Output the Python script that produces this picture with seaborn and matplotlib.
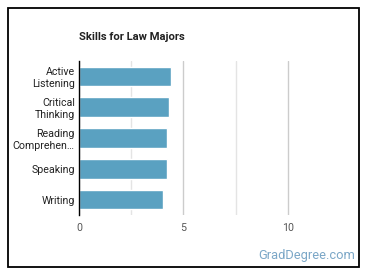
import matplotlib
matplotlib.use("Agg")
import matplotlib.pyplot as plt
import seaborn as sns
from matplotlib.patches import Rectangle
from matplotlib.ticker import MultipleLocator
from pandas import DataFrame

# skills and scores
skills = ["Active\nListening", "Critical\nThinking", "Reading\nComprehen\u2026", "Speaking", "Writing"]
scores = [4.40, 4.29, 4.22, 4.22, 4.03]

dfs = DataFrame({"Skill": skills, "Score": scores})

sns.set_style("white")
plt.rcParams['font.family'] = ['Roboto', 'DejaVu Sans']

fig = plt.figure(figsize=(3.70, 2.78), dpi=100)
fig.patch.set_facecolor("white")

# outer frame of the card
fig.patches.append(Rectangle((8 / 370, 11 / 278), 351 / 370, 259 / 278, transform=fig.transFigure,
                             fill=False, edgecolor="black", linewidth=1.3))

ax = fig.add_axes([79 / 370, 1 - 215 / 278, 259 / 370, 154 / 278])
sns.barplot(x="Score", y="Skill", data=dfs, color="#5aa1c1", saturation=1, width=0.63, ax=ax, zorder=3)

ax.set_xlim(0, 12.4)
ax.set_ylim(4.5, -0.5)
ax.xaxis.set_major_locator(MultipleLocator(5))
ax.xaxis.set_minor_locator(MultipleLocator(2.5))
ax.grid(True, axis="x", which="major", color="#cccccc", linewidth=1, zorder=0)
ax.grid(True, axis="x", which="minor", color="#e4e4e4", linewidth=1, zorder=0)
ax.set_axisbelow(True)
for s in ["top", "right", "bottom"]:
    ax.spines[s].set_visible(False)
ax.spines["left"].set_color("black")
ax.spines["left"].set_linewidth(1)
ax.spines["left"].set_zorder(4)
ax.set_xlabel("")
ax.set_ylabel("")
ax.tick_params(axis="both", which="both", length=0)
ax.tick_params(axis="y", labelsize=7.7, labelcolor="#222222", pad=3)
ax.tick_params(axis="x", labelsize=7.7, labelcolor="#555555", pad=6)
for lab in ax.get_yticklabels():
    lab.set_horizontalalignment("right")
    lab.set_linespacing(1.25)

fig.text(79 / 370, 1 - 37 / 278, "Skills for Law Majors", fontsize=8.1, fontweight="bold",
         color="#222222", ha="left", va="center")
fig.text(355 / 370, 1 - 256 / 278, "GradDegree.com", fontsize=9.3, color="#7ba7c7",
         ha="right", va="center")

fig.savefig("out.png", dpi=100)
